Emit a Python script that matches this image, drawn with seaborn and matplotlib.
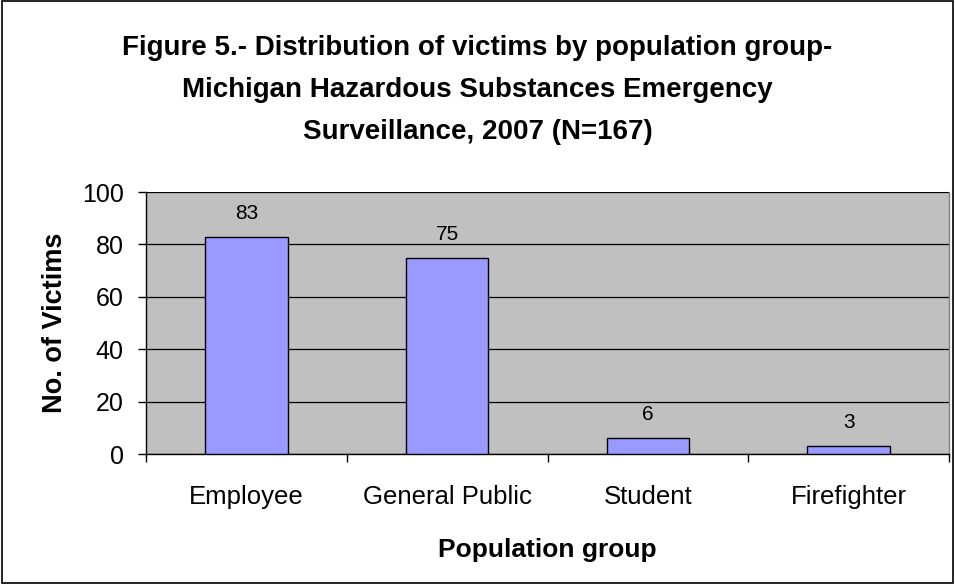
import matplotlib
matplotlib.use("Agg")
import matplotlib.pyplot as plt
import seaborn as sns
import pandas as pd
from matplotlib.patches import Rectangle

categories = ["Employee", "General Public", "Student", "Firefighter"]
victims = [83, 75, 6, 3]
yticks = [0, 20, 40, 60, 80, 100]

title = ("Figure 5.- Distribution of victims by population group-\n"
         "Michigan Hazardous Substances Emergency\n"
         "Surveillance, 2007 (N=167)")

sns.set_theme(style="white")
plt.rcParams['font.family'] = ['Liberation Sans', 'DejaVu Sans']
plt.rcParams.update({"text.color": "black", "axes.labelcolor": "black",
                     "xtick.color": "black", "ytick.color": "black"})

df = pd.DataFrame({"group": categories, "victims": victims})

fig = plt.figure(figsize=(9.55, 5.84), dpi=100)
ax = fig.add_axes([146/955, (584-454)/584, 803/955, 262/584])

sns.barplot(data=df, x="group", y="victims", color="#9999FF", width=0.41,
            edgecolor="black", linewidth=1.0, saturation=1, ax=ax, zorder=3)

ax.set_facecolor("#C0C0C0")
ax.set_ylim(0, 100)
ax.set_xlim(-0.5, len(categories) - 0.5)
ax.set_yticks(yticks)
ax.yaxis.grid(True, color="black", linewidth=0.9, zorder=1)
ax.set_axisbelow(True)

for s in ["left", "bottom"]:
    ax.spines[s].set_color("black")
    ax.spines[s].set_linewidth(1.0)
ax.spines["top"].set_visible(False)
ax.spines["right"].set_color("#808080")
ax.spines["right"].set_linewidth(1.0)

ax.tick_params(axis="y", direction="out", length=6, width=1, color="black",
               labelcolor="black", labelsize=18, pad=10, left=True)
ax.tick_params(axis="x", which="major", length=0, labelsize=18.5, pad=22,
               labelcolor="black")
ax.set_xticks([i - 0.5 for i in range(len(categories) + 1)], minor=True)
ax.tick_params(axis="x", which="minor", direction="out", length=6, width=1,
               color="black", bottom=True)

for i, v in enumerate(victims):
    ax.annotate(str(v), (i, v), xytext=(0, 10), textcoords="offset points",
                ha="center", va="bottom", fontsize=15, color="black")

ax.set_xlabel("Population group", fontsize=19, fontweight="bold", labelpad=21,
              color="black")
ax.set_ylabel("No. of Victims", fontsize=19.5, fontweight="bold", labelpad=10,
              color="black")

fig.text(0.5, 0.940, title, ha="center", va="top", fontsize=20,
         fontweight="bold", linespacing=1.8, color="black")

fig.patches.append(Rectangle((0.002, 0.002), 0.996, 0.996, transform=fig.transFigure,
                             fill=False, edgecolor="black", linewidth=1.2))

fig.savefig("out.png", dpi=100)
